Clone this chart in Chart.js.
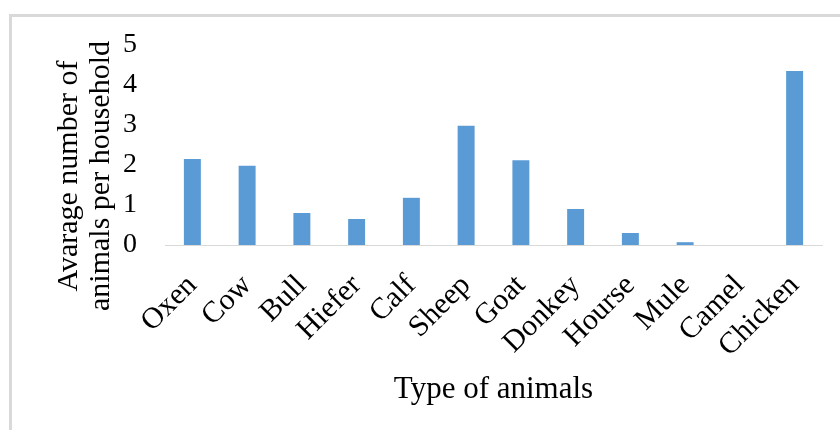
<!DOCTYPE html>
<html>
<head>
<meta charset="utf-8">
<script src="https://cdn.jsdelivr.net/npm/chart.js@4/dist/chart.umd.min.js"></script>
<style>
  html, body { margin: 0; padding: 0; background: #ffffff; }
  #wrap { width: 840px; height: 430px; position: relative; }
</style>
</head>
<body>
<div id="wrap"><canvas id="chart" width="840" height="430"></canvas></div>
<script>
// Average herd composition per household
const categories = ['Oxen', 'Cow', 'Bull', 'Hiefer', 'Calf', 'Sheep', 'Goat', 'Donkey', 'Hourse', 'Mule', 'Camel', 'Chicken'];
const averagePerHousehold = [2.15, 1.98, 0.8, 0.65, 1.18, 2.98, 2.12, 0.9, 0.3, 0.07, 0, 4.35];
const yTickValues = [0, 1, 2, 3, 4, 5];
const xAxisTitle = 'Type of animals';
const yAxisTitleLines = ['Avarage number of', 'animals per household'];

const SERIF = '"Liberation Serif", "Times New Roman", serif';
const FRAME = '#d9d9d9';

// Frame lines along the top and left edge, plus the two axis titles
const decorations = {
  id: 'decorations',
  beforeDraw(chart) {
    const ctx = chart.ctx;
    ctx.save();
    ctx.fillStyle = '#ffffff';
    ctx.fillRect(0, 0, chart.width, chart.height);
    ctx.fillStyle = FRAME;
    ctx.fillRect(9, 14, chart.width - 9, 3);
    ctx.fillRect(9, 14, 3, chart.height - 14);
    ctx.restore();
  },
  afterDraw(chart) {
    const ctx = chart.ctx;
    const area = chart.chartArea;
    ctx.save();
    ctx.fillStyle = '#000000';
    ctx.textAlign = 'center';
    ctx.textBaseline = 'alphabetic';
    ctx.font = '31px ' + SERIF;
    ctx.fillText(xAxisTitle, (area.left + area.right) / 2, 398);

    ctx.font = '30px ' + SERIF;
    ctx.rotate(-Math.PI / 2);
    const centerY = 176;
    ctx.fillText(yAxisTitleLines[0], -centerY, 77);
    ctx.fillText(yAxisTitleLines[1], -centerY, 109);
    ctx.restore();
  }
};

new Chart(document.getElementById('chart'), {
  type: 'bar',
  data: {
    labels: categories,
    datasets: [{
      data: averagePerHousehold,
      backgroundColor: '#5b9bd5',
      borderWidth: 0,
      barPercentage: 0.31,
      categoryPercentage: 1.0
    }]
  },
  options: {
    responsive: false,
    devicePixelRatio: 1,
    animation: false,
    layout: { padding: { top: 45, right: 18, bottom: 0, left: 0 } },
    plugins: {
      legend: { display: false },
      tooltip: { enabled: false }
    },
    scales: {
      x: {
        grid: { display: false, drawTicks: false },
        border: { display: true, color: FRAME, width: 1 },
        ticks: {
          autoSkip: false,
          minRotation: 45,
          maxRotation: 45,
          padding: 23,
          color: '#000000',
          font: { family: SERIF, size: 30 }
        },
        afterFit(scale) {
          scale.height = 185;
          scale.paddingLeft = 0;
          scale.paddingRight = 0;
        }
      },
      y: {
        min: yTickValues[0],
        max: yTickValues[yTickValues.length - 1],
        grid: { display: false, drawTicks: false },
        border: { display: false },
        afterBuildTicks(scale) { scale.ticks = yTickValues.map(v => ({ value: v })); },
        ticks: {
          padding: 28,
          color: '#000000',
          font: { family: SERIF, size: 28 }
        },
        afterFit(scale) {
          scale.width = 165;
          scale.paddingTop = 0;
          scale.paddingBottom = 0;
        }
      }
    }
  },
  plugins: [decorations]
});
</script>
</body>
</html>
